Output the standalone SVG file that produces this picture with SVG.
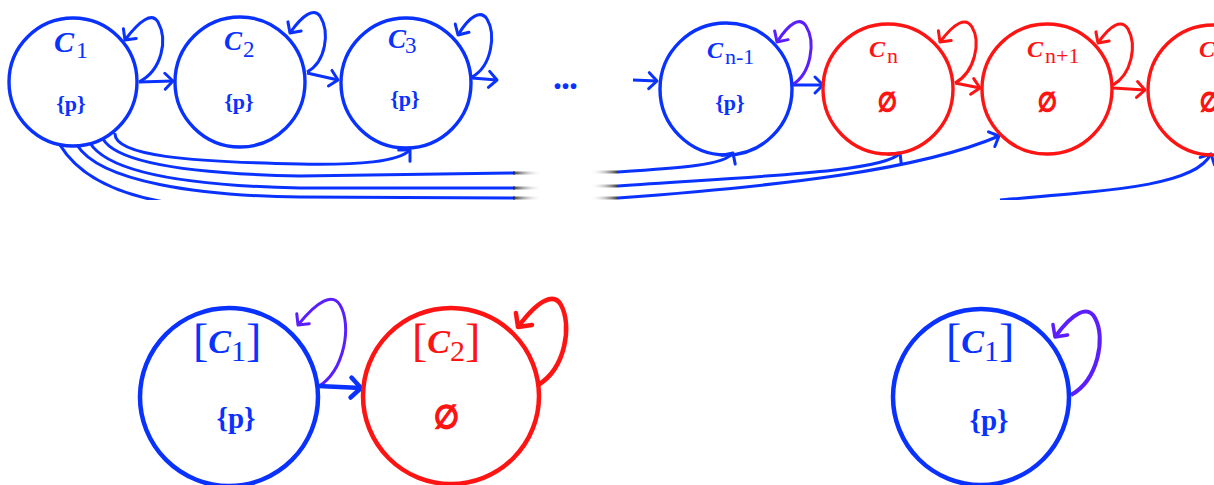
<svg xmlns="http://www.w3.org/2000/svg" width="1214" height="485" viewBox="0 0 1214 485">
<style>
.nb{fill:none;stroke:#0a32ff;stroke-width:3.4}
.nr{fill:none;stroke:#ff1414;stroke-width:3.4}
.nbL{fill:none;stroke:#0a32ff;stroke-width:4.5}
.nrL{fill:none;stroke:#ff1414;stroke-width:4.5}
.eb{fill:none;stroke:#0a32ff;stroke-width:3}
.er{fill:none;stroke:#ff1414;stroke-width:3}
.ep{fill:none;stroke:#5a1eff;stroke-width:3}
text{font-family:"Liberation Serif","DejaVu Serif",serif}
.tb{fill:#0a32ff}
.tr{fill:#ff1414}
.ci{font-style:italic;font-weight:bold}
.sub{font-weight:normal}
.set{font-weight:bold;text-anchor:middle}
.br{font-weight:normal}
.empty{stroke:#ff1414;stroke-width:1.2}
.fade{fill:none;stroke-width:3}
</style>
<defs>
<marker id="mb" markerUnits="userSpaceOnUse" markerWidth="30" markerHeight="30" viewBox="-15 -15 30 30" refX="0" refY="0" orient="auto" overflow="visible"><path d="M-8,-8 L0,0 L-8,8" fill="none" stroke="#0a32ff" stroke-width="3" stroke-linecap="round" stroke-linejoin="round"/></marker>
<marker id="mr" markerUnits="userSpaceOnUse" markerWidth="30" markerHeight="30" viewBox="-15 -15 30 30" refX="0" refY="0" orient="auto" overflow="visible"><path d="M-8,-8 L0,0 L-8,8" fill="none" stroke="#ff1414" stroke-width="3" stroke-linecap="round" stroke-linejoin="round"/></marker>
<marker id="mp" markerUnits="userSpaceOnUse" markerWidth="30" markerHeight="30" viewBox="-15 -15 30 30" refX="0" refY="0" orient="auto" overflow="visible"><path d="M-8,-8 L0,0 L-8,8" fill="none" stroke="#5a1eff" stroke-width="3" stroke-linecap="round" stroke-linejoin="round"/></marker>
<marker id="mbL" markerUnits="userSpaceOnUse" markerWidth="40" markerHeight="40" viewBox="-20 -20 40 40" refX="0" refY="0" orient="auto" overflow="visible"><path d="M-10,-10 L0,0 L-10,10" fill="none" stroke="#0a32ff" stroke-width="4.5" stroke-linecap="round" stroke-linejoin="round"/></marker>
<marker id="mrL" markerUnits="userSpaceOnUse" markerWidth="40" markerHeight="40" viewBox="-20 -20 40 40" refX="0" refY="0" orient="auto" overflow="visible"><path d="M-10,-10 L0,0 L-10,10" fill="none" stroke="#ff1414" stroke-width="4.5" stroke-linecap="round" stroke-linejoin="round"/></marker>
<marker id="mpL" markerUnits="userSpaceOnUse" markerWidth="40" markerHeight="40" viewBox="-20 -20 40 40" refX="0" refY="0" orient="auto" overflow="visible"><path d="M-9,-9 L0,0 L-9,9" fill="none" stroke="#5a1eff" stroke-width="3.5" stroke-linecap="round" stroke-linejoin="round"/></marker>
<clipPath id="topclip"><rect x="0" y="0" width="1214" height="200"/></clipPath>
<linearGradient id="gL" gradientUnits="userSpaceOnUse" x1="513" y1="0" x2="542" y2="0"><stop offset="0" stop-color="#222" stop-opacity="0.9"/><stop offset="1" stop-color="#fff" stop-opacity="0"/></linearGradient>
<linearGradient id="gR" gradientUnits="userSpaceOnUse" x1="590" y1="0" x2="618" y2="0"><stop offset="0" stop-color="#fff" stop-opacity="0"/><stop offset="1" stop-color="#222" stop-opacity="0.9"/></linearGradient>
</defs>

<g id="connectors">
  <g id="top-chain">
    <path class="eb" d="M139,82 L173,81" marker-end="url(#mb)"/>
    <path class="eb" d="M307,73 L338,80" marker-end="url(#mb)"/>
    <path class="eb" d="M472,78 L497,80" marker-end="url(#mb)"/>
    <path class="eb" d="M633,80 L657,81" marker-end="url(#mb)"/>
    <path class="eb" d="M792,85 L823,85" marker-end="url(#mb)"/>
    <path class="er" d="M955,83 L980,88" marker-end="url(#mr)"/>
    <path class="er" d="M1113,88 L1145,90" marker-end="url(#mr)"/>
  </g>
  <g id="top-loops">
    <path class="eb" d="M139,82 C162,70 168,40 158,22 C152,12 140,20 125,40" marker-end="url(#mb)"/>
    <path class="eb" d="M307,72 C326,62 330,32 320,16 C314,8 303,14 290,33" marker-end="url(#mb)"/>
    <path class="eb" d="M472,77 C492,66 496,34 487,19 C481,10 470,15 458,35" marker-end="url(#mb)"/>
    <path class="ep" d="M792,85 C811,74 816,42 806,26 C800,17 790,22 777,42" marker-end="url(#mp)"/>
    <path class="er" d="M955,83 C975,72 981,42 972,27 C966,17 955,22 940,42" marker-end="url(#mr)"/>
    <path class="er" d="M1113,85 C1132,74 1137,45 1128,29 C1122,19 1111,24 1098,43" marker-end="url(#mr)"/>
  </g>
  <g id="jumps" clip-path="url(#topclip)">
    <path class="eb" d="M115,133 C113,156 190,162 300,164 C360,165 398,162 410,150" marker-end="url(#mb)"/>
    <path class="eb" d="M103,139 C118,165 200,174 300,176 L515,173"/>
    <path class="eb" d="M618,172 C680,168 725,165 733,153" marker-end="url(#mb)"/>
    <path class="eb" d="M90,143 C110,175 200,186 300,188 L515,188"/>
    <path class="eb" d="M618,186 C760,176 885,172 900,153" marker-end="url(#mb)"/>
    <path class="eb" d="M77,145 C100,182 200,196 300,197 L515,198"/>
    <path class="eb" d="M618,198 C780,186 920,170 999,136" marker-end="url(#mb)"/>
    <path class="eb" d="M60,145 C80,178 120,195 170,203"/>
    <path class="eb" d="M1000,200 C1120,190 1195,185 1211,154" marker-end="url(#mb)"/>
    <path class="fade" stroke="url(#gL)" d="M513,173 L542,173 M513,188 L542,188 M513,198 L542,198"/>
    <path class="fade" stroke="url(#gR)" d="M590,172 L618,172 M590,186 L618,186 M590,198 L618,198"/>
  </g>
  <g id="bottom-edges">
    <path class="ep" d="M318,387 C345,370 352,325 340,305 C333,293 318,300 298,325" marker-end="url(#mp)"/>
    <path fill="none" stroke="#0a32ff" stroke-width="4.5" d="M318,386 L361,388" marker-end="url(#mbL)"/>
    <path fill="none" stroke="#ff1414" stroke-width="4.5" d="M538,385 C566,368 572,325 561,305 C554,292 538,300 518,327" marker-end="url(#mrL)"/>
    <path fill="none" stroke="#5a1eff" stroke-width="4" d="M1071,395 C1098,380 1106,338 1095,318 C1088,305 1073,312 1055,337" marker-end="url(#mpL)"/>
  </g>
</g>

<g id="C1">
  <circle class="nb" cx="73" cy="82" r="64"/>
  <text class="tb" y="52"><tspan class="ci" x="54" font-size="30">C</tspan><tspan class="sub" x="76" y="58" font-size="24">1</tspan></text>
  <text class="tb set" x="71" y="111" font-size="22">{p}</text>
</g>
<g id="C2">
  <circle class="nb" cx="240" cy="82" r="65"/>
  <text class="tb" y="50"><tspan class="ci" x="224" font-size="27">C</tspan><tspan class="sub" x="243" y="57" font-size="23">2</tspan></text>
  <text class="tb set" x="239" y="109" font-size="22">{p}</text>
</g>
<g id="C3">
  <circle class="nb" cx="406" cy="83" r="65"/>
  <text class="tb" y="48"><tspan class="ci" x="388" font-size="27">C</tspan><tspan class="sub" x="405" y="53" font-size="23">3</tspan></text>
  <text class="tb set" x="405" y="106" font-size="22">{p}</text>
</g>
<text class="tb" x="565" y="89" font-size="36" font-weight="bold" text-anchor="middle" letter-spacing="-1">...</text>
<g id="Cn-1">
  <circle class="nb" cx="726" cy="89" r="66"/>
  <text class="tb" y="58"><tspan class="ci" x="707" font-size="24">C</tspan><tspan class="sub" x="725" y="64" font-size="22">n-1</tspan></text>
  <text class="tb set" x="730" y="110" font-size="22">{p}</text>
</g>
<g id="Cn">
  <circle class="nr" cx="888" cy="89" r="65"/>
  <text class="tr" y="57"><tspan class="ci" x="869" font-size="24">C</tspan><tspan class="sub" x="887" y="63" font-size="22">n</tspan></text>
  <text class="tr set empty" x="887" y="111" font-size="26" textLength="19" lengthAdjust="spacingAndGlyphs">∅</text>
</g>
<g id="Cn+1">
  <circle class="nr" cx="1047" cy="89" r="65"/>
  <text class="tr" y="57"><tspan class="ci" x="1027" font-size="24">C</tspan><tspan class="sub" x="1045" y="63" font-size="22">n+1</tspan></text>
  <text class="tr set empty" x="1047" y="111" font-size="26" textLength="19" lengthAdjust="spacingAndGlyphs">∅</text>
</g>
<g id="Cn+2">
  <circle class="nr" cx="1213" cy="90" r="65"/>
  <text class="tr ci" x="1199" y="57" font-size="24">C</text>
  <text class="tr empty" x="1200" y="111" font-size="26" font-weight="bold" textLength="19" lengthAdjust="spacingAndGlyphs">∅</text>
</g>

<g id="B1">
  <circle class="nbL" cx="229" cy="397" r="89"/>
  <text class="tb" x="193" y="356"><tspan class="br" font-size="46">[</tspan><tspan class="ci" font-size="34" y="353">C</tspan><tspan class="sub" font-size="30" y="361">1</tspan><tspan class="br" font-size="46" y="356">]</tspan></text>
  <text class="tb set" x="236" y="428" font-size="29">{p}</text>
</g>
<g id="B2">
  <circle class="nrL" cx="451" cy="396" r="88"/>
  <text class="tr" x="412" y="356"><tspan class="br" font-size="46">[</tspan><tspan class="ci" font-size="34" y="353">C</tspan><tspan class="sub" font-size="30" y="361">2</tspan><tspan class="br" font-size="46" y="356">]</tspan></text>
  <text class="tr set empty" x="446" y="428" font-size="32" textLength="25" lengthAdjust="spacingAndGlyphs">∅</text>
</g>
<g id="B3">
  <circle class="nbL" cx="981" cy="397" r="88"/>
  <text class="tb" x="946" y="356"><tspan class="br" font-size="46">[</tspan><tspan class="ci" font-size="34" y="353">C</tspan><tspan class="sub" font-size="30" y="361">1</tspan><tspan class="br" font-size="46" y="356">]</tspan></text>
  <text class="tb set" x="989" y="430" font-size="29">{p}</text>
</g>
</svg>
